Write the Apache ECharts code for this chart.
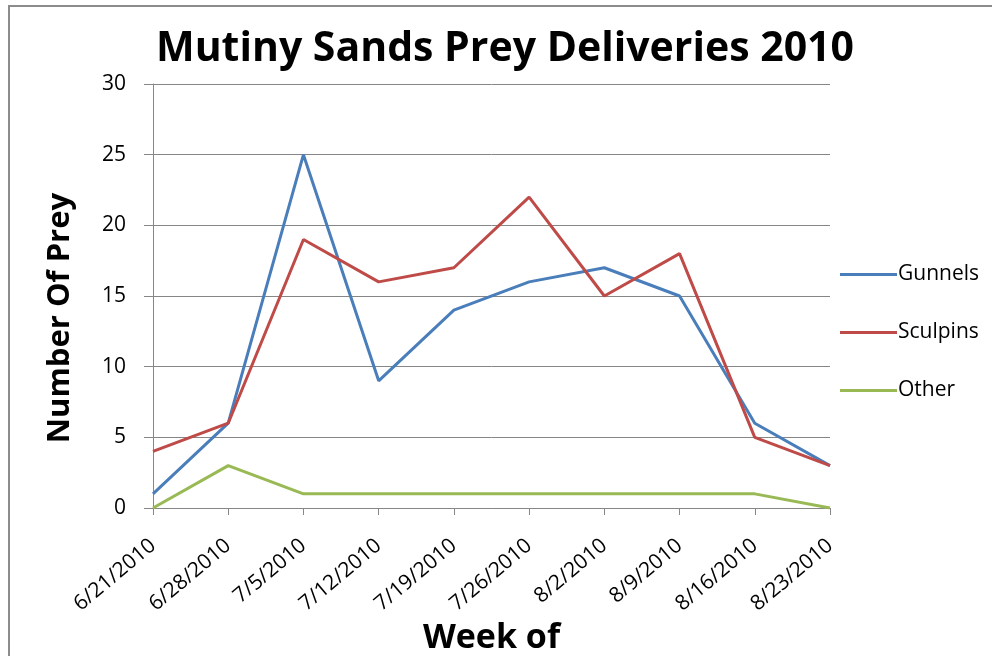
<!DOCTYPE html>
<html>
<head>
<meta charset="utf-8">
<script src="https://cdn.jsdelivr.net/npm/echarts@6/dist/echarts.min.js"></script>
<style>
  html, body { margin: 0; padding: 0; background: #fff; }
  #frame { position: absolute; left: 8px; top: 5px; width: 1000px; height: 700px; border: 2px solid #8c8c8c; box-sizing: border-box; }
  #main { position: absolute; left: 0; top: 0; width: 992px; height: 656px; }
</style>
</head>
<body>
<div id="frame"></div>
<div id="main"></div>
<script>
var weeks = ['6/21/2010', '6/28/2010', '7/5/2010', '7/12/2010', '7/19/2010',
             '7/26/2010', '8/2/2010', '8/9/2010', '8/16/2010', '8/23/2010'];
var gunnels = [1, 6, 25, 9, 14, 16, 17, 15, 6, 3];
var sculpins = [4, 6, 19, 16, 17, 22, 15, 18, 5, 3];
var other = [0, 3, 1, 1, 1, 1, 1, 1, 1, 0];

var font = 'Open Sans';
var chart = echarts.init(document.getElementById('main'));

function lineSeries(name, data, color) {
  return {
    name: name,
    type: 'line',
    data: data,
    symbol: 'none',
    lineStyle: { color: color, width: 3 },
    itemStyle: { color: color }
  };
}

var option = {
  animation: false,
  title: {
    text: 'Mutiny Sands Prey Deliveries 2010',
    left: 500,
    top: 24,
    textAlign: 'center',
    textStyle: { fontFamily: font, fontSize: 41, fontWeight: 'bold', color: '#000' }
  },
  legend: {
    orient: 'vertical',
    left: 835,
    top: 259,
    itemWidth: 57,
    itemHeight: 3,
    itemGap: 37,
    icon: 'rect',
    textStyle: { fontFamily: font, fontSize: 21, color: '#000', padding: [0, 0, 0, -4] },
    data: ['Gunnels', 'Sculpins', 'Other']
  },
  // y axis title sits a bit lower than the plot centre, so it is drawn as plain text
  graphic: [{
    type: 'text',
    x: 60,
    y: 318,
    rotation: Math.PI / 2,
    style: {
      text: 'Number Of Prey',
      fontFamily: font,
      fontSize: 31,
      fontWeight: 'bold',
      fill: '#000',
      textAlign: 'center',
      textVerticalAlign: 'middle'
    }
  }],
  grid: { left: 153, right: 162, top: 84, bottom: 148, outerBoundsMode: 'none' },
  xAxis: {
    type: 'category',
    data: weeks,
    boundaryGap: false,
    name: 'Week of',
    nameLocation: 'middle',
    nameGap: 112,
    nameTextStyle: { fontFamily: font, fontSize: 34, fontWeight: 'bold', color: '#000' },
    axisLine: { lineStyle: { color: '#868686', width: 1 } },
    axisTick: { show: true, length: 7, alignWithLabel: true, lineStyle: { color: '#868686' } },
    axisLabel: { rotate: 40, margin: 35, fontFamily: font, fontSize: 21, color: '#000' },
    splitLine: { show: false }
  },
  yAxis: {
    type: 'value',
    min: 0,
    max: 30,
    interval: 5,
    axisLine: { show: true, lineStyle: { color: '#868686', width: 1 } },
    axisTick: { show: true, length: 9, lineStyle: { color: '#868686' } },
    axisLabel: { margin: 27, fontFamily: font, fontSize: 21, color: '#000' },
    splitLine: { lineStyle: { color: '#868686', width: 1 } }
  },
  series: [
    lineSeries('Gunnels', gunnels, '#4a7ebb'),
    lineSeries('Sculpins', sculpins, '#be4b48'),
    lineSeries('Other', other, '#98b954')
  ]
};
chart.setOption(option);
</script>
</body>
</html>
